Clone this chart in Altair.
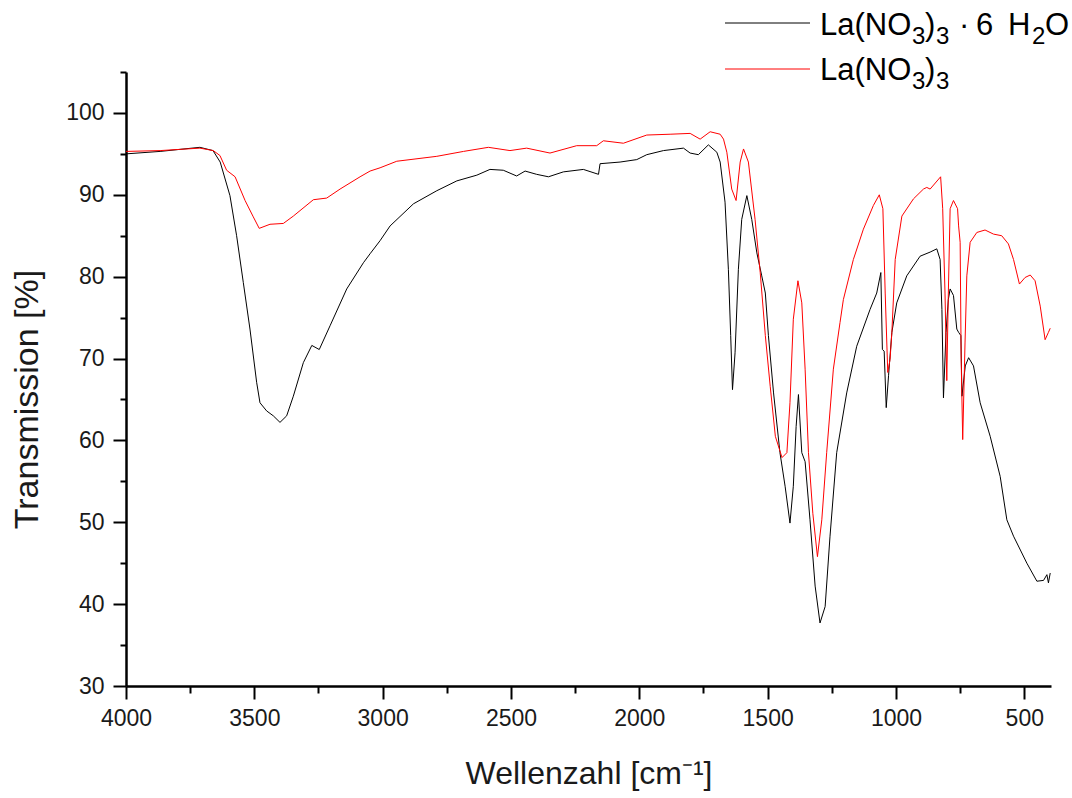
import altair as alt
import pandas as pd

SERIES = ["La(NO₃)₃ · 6 H₂O", "La(NO₃)₃"]
COLORS = ["#000000", "#ff0000"]
# legend label pieces (main text and subscripts)
LEG1 = ["La(NO", "3", ")", "3", "·", "6", "H", "2", "O"]
LEG2 = ["La(NO", "3", ")", "3"]

BLACK_WN = [4000, 3867, 3712, 3661, 3633, 3595, 3569, 3543, 3517, 3491,
            3478, 3452, 3426, 3400, 3374, 3348, 3309, 3276, 3247, 3205,
            3140, 3075, 3049, 3010, 2971, 2880, 2789, 2711, 2633, 2582,
            2530, 2478, 2445, 2400, 2354, 2296, 2218, 2159, 2153, 2075,
            2010, 1971, 1906, 1828, 1802, 1770, 1731, 1698, 1685, 1666,
            1653, 1644, 1637, 1627, 1614, 1601, 1581, 1562, 1542, 1523,
            1509, 1497, 1477, 1452, 1432, 1413, 1400, 1389, 1380, 1367,
            1354, 1335, 1315, 1296, 1276, 1257, 1231, 1192, 1153, 1101,
            1075, 1059, 1053, 1046, 1038, 1029, 1016, 997, 958, 906,
            867, 841, 828, 821, 815, 805, 796, 789, 776, 763,
            756, 747, 743, 730, 717, 698, 672, 633, 594, 568,
            542, 490, 451, 425, 412, 406, 399]
BLACK_T = [95.0, 95.3, 95.8, 95.4, 94.0, 89.9, 85.0, 79.3, 73.6, 67.1,
           64.6, 63.6, 63.0, 62.2, 63.0, 65.4, 69.5, 71.6, 71.1, 74.0,
           78.5, 81.7, 82.8, 84.4, 86.2, 88.9, 90.5, 91.7, 92.4, 93.1,
           93.0, 92.3, 92.9, 92.5, 92.2, 92.8, 93.1, 92.5, 93.8, 94.0,
           94.3, 94.9, 95.4, 95.7, 95.1, 94.9, 96.1, 95.2, 94.0, 89.1,
           80.9, 72.8, 66.2, 70.7, 80.9, 87.0, 89.9, 87.0, 82.9, 80.1,
           78.0, 72.8, 65.8, 58.5, 54.4, 49.9, 54.4, 61.7, 65.6, 58.5,
           57.4, 50.3, 42.2, 37.7, 39.7, 48.3, 58.5, 65.8, 71.5, 76.0,
           78.0, 80.5, 71.1, 70.9, 64.0, 67.9, 73.2, 76.8, 80.1, 82.5,
           83.0, 83.4, 82.1, 76.0, 65.2, 73.2, 77.2, 78.5, 77.7, 73.6,
           73.2, 72.8, 65.4, 69.1, 70.1, 69.1, 64.6, 60.5, 55.6, 50.3,
           48.3, 45.0, 42.8, 42.9, 43.6, 42.6, 43.8]

RED_WN = [4000, 3867, 3712, 3660, 3634, 3608, 3575, 3536, 3504, 3481,
          3439, 3387, 3348, 3270, 3218, 3166, 3088, 3049, 3010, 2945,
          2789, 2685, 2588, 2504, 2439, 2348, 2244, 2166, 2140, 2062,
          1971, 1880, 1802, 1763, 1724, 1685, 1672, 1659, 1640, 1623,
          1607, 1594, 1575, 1549, 1529, 1509, 1490, 1470, 1444, 1425,
          1413, 1400, 1382, 1367, 1354, 1341, 1324, 1306, 1289, 1270,
          1244, 1218, 1205, 1166, 1127, 1088, 1065, 1051, 1042, 1032,
          1023, 1016, 1003, 977, 932, 893, 880, 867, 826, 818,
          809, 802, 796, 789, 776, 760, 756, 750, 746, 740,
          731, 724, 711, 685, 653, 620, 588, 562, 542, 519,
          497, 477, 458, 438, 419, 406, 399]
RED_T = [95.3, 95.4, 95.7, 95.4, 94.8, 93.0, 92.2, 89.3, 87.3, 85.9,
         86.4, 86.5, 87.4, 89.4, 89.6, 90.7, 92.2, 92.9, 93.3, 94.1,
         94.7, 95.3, 95.8, 95.4, 95.7, 95.1, 96.0, 96.0, 96.6, 96.3,
         97.3, 97.4, 97.5, 96.8, 97.7, 97.4, 96.8, 95.2, 90.7, 89.3,
         94.0, 95.6, 94.0, 87.0, 80.5, 72.8, 66.6, 60.5, 57.9, 58.5,
         64.6, 74.8, 79.5, 76.8, 68.7, 58.5, 51.1, 45.8, 50.3, 58.5,
         68.7, 74.4, 77.2, 82.1, 85.8, 88.7, 90.0, 88.3, 78.0, 68.3,
         69.9, 73.2, 82.1, 87.4, 89.5, 90.7, 90.9, 90.7, 92.2, 88.3,
         78.0, 67.3, 78.0, 88.3, 89.3, 88.3, 86.2, 84.2, 69.9, 60.1,
         71.9, 80.1, 84.2, 85.4, 85.7, 85.2, 85.0, 84.0, 82.1, 79.1,
         79.9, 80.2, 79.5, 76.4, 72.3, 73.2, 73.7]

X_TICKS = list(range(500, 4001, 250))
Y_TICKS = list(range(30, 106, 5))
X_TITLE = "Wellenzahl [cm⁻¹]"
Y_TITLE = "Transmission [%]"

FONT = "Liberation Sans"

df = pd.concat([
    pd.DataFrame({"wn": BLACK_WN, "T": BLACK_T, "series": SERIES[0]}),
    pd.DataFrame({"wn": RED_WN, "T": RED_T, "series": SERIES[1]}),
])

x_scale = alt.Scale(domain=[396, 4000], reverse=True, nice=False, zero=False)
y_scale = alt.Scale(domain=[30, 105], nice=False, zero=False)

x_axis = alt.Axis(
    values=X_TICKS, format="d",
    labelExpr="datum.value % 500 === 0 ? datum.label : ''",
    tickSize={"condition": {"test": "datum.value % 500 === 0", "value": 13}, "value": 7},
    tickWidth=2, tickColor="black", domainColor="black", domainWidth=2.5,
    labelFont=FONT, labelFontSize=23, labelColor="#1a1a1a", labelPadding=8,
    labelFlush=False, labelOverlap=False, grid=False,
    title=X_TITLE, titleFont=FONT, titleFontSize=32, titleFontWeight="normal",
    titleColor="#1a1a1a", titlePadding=28,
)
y_axis = alt.Axis(
    values=Y_TICKS, format="d",
    labelExpr="datum.value % 10 === 0 ? datum.label : ''",
    tickSize={"condition": {"test": "datum.value % 10 === 0", "value": 13}, "value": 6},
    tickWidth=2, tickColor="black", domainColor="black", domainWidth=2.5,
    labelFont=FONT, labelFontSize=23, labelColor="#1a1a1a", labelPadding=9,
    labelFlush=False, labelOverlap=False, grid=False,
    title=Y_TITLE, titleFont=FONT, titleFontSize=34, titleFontWeight="normal",
    titleColor="#1a1a1a", titlePadding=21, titleY=327,
)

lines = alt.Chart(df).mark_line(strokeWidth=1, strokeJoin="round").encode(
    x=alt.X("wn:Q", scale=x_scale, axis=x_axis),
    y=alt.Y("T:Q", scale=y_scale, axis=y_axis),
    color=alt.Color("series:N", scale=alt.Scale(domain=SERIES, range=COLORS), legend=None),
    detail="series:N",
    order=alt.Order("wn:Q"),
)

one = pd.DataFrame({"k": [0]})


def piece(text, x, y, size):
    return alt.Chart(one).mark_text(
        align="left", baseline="alphabetic", font=FONT, fontSize=size,
        color="black", text=text
    ).encode(x=alt.value(x), y=alt.value(y))


OX, OY = 126, 72  # plot origin on the page
MAIN, SUB = 31, 24

leg_layers = [
    alt.Chart(one).mark_rule(color=COLORS[0], strokeWidth=1).encode(
        x=alt.value(725 - OX), x2=alt.value(810 - OX), y=alt.value(23 - OY)),
    alt.Chart(one).mark_rule(color=COLORS[1], strokeWidth=1).encode(
        x=alt.value(725 - OX), x2=alt.value(810 - OX), y=alt.value(69 - OY)),
]
# line 1: La(NO3)3 · 6 H2O
b1, s1 = 34.5 - OY, 43.5 - OY
leg1_pos = [(820, b1, MAIN), (912, s1, SUB), (925, b1, MAIN), (936, s1, SUB),
            (959, b1, MAIN), (976, b1, MAIN), (1008, b1, MAIN), (1032, s1, SUB),
            (1045, b1, MAIN)]
for t, (x, y, s) in zip(LEG1, leg1_pos):
    leg_layers.append(piece(t, x - OX, y, s))
# line 2: La(NO3)3
b2, s2 = 80 - OY, 89 - OY
leg2_pos = [(820, b2, MAIN), (912, s2, SUB), (925, b2, MAIN), (936, s2, SUB)]
for t, (x, y, s) in zip(LEG2, leg2_pos):
    leg_layers.append(piece(t, x - OX, y, s))

chart = alt.layer(lines, *leg_layers).properties(
    width=925, height=614,
    autosize=alt.AutoSizeParams(type="none"),
    padding={"left": 126, "top": 72, "right": 21, "bottom": 112},
    background="white",
).configure_view(stroke=None)

chart.save("out.html", embed_options={"renderer": "svg", "actions": False})
